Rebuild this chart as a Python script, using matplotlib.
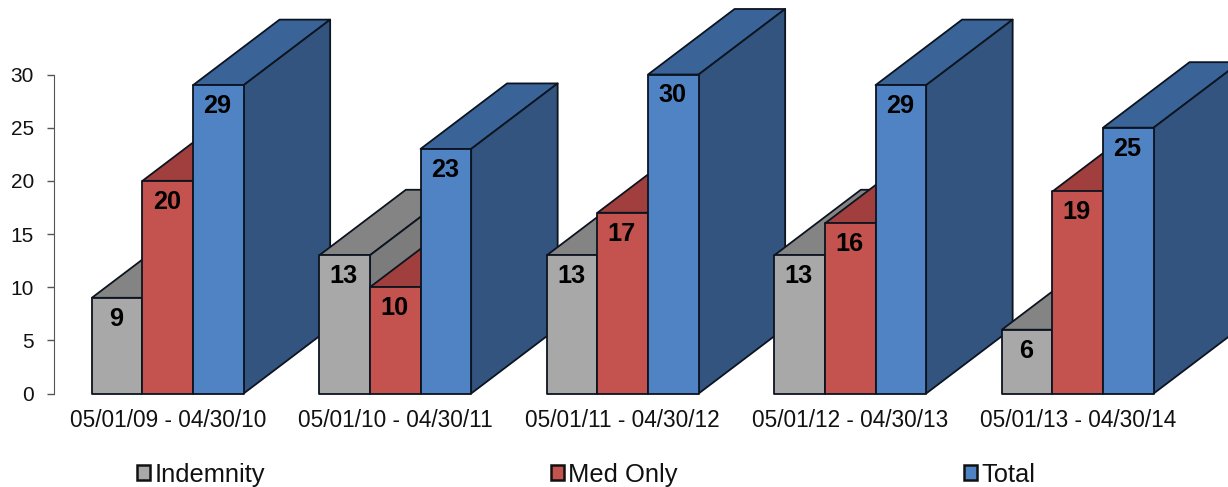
import matplotlib
matplotlib.use('Agg')
import matplotlib.pyplot as plt
from matplotlib.patches import Polygon, Patch

plt.rcParams['font.family'] = ['Liberation Sans', 'DejaVu Sans']

periodos = ['05/01/09 - 04/30/10', '05/01/10 - 04/30/11', '05/01/11 - 04/30/12',
            '05/01/12 - 04/30/13', '05/01/13 - 04/30/14']
series = ['Indemnity', 'Med Only', 'Total']
indemnity = [9, 13, 13, 13, 6]
med_only = [20, 10, 17, 16, 19]
total = [29, 23, 30, 29, 25]

colores_frente = ['#a8a8a8', '#c4524e', '#4f83c4']
colores_arriba = ['#848484', '#a03f3d', '#3a6398']
colores_lado = ['#7c7c7c', '#93403d', '#33547f']

W, H = 1228, 487
fig = plt.figure(figsize=(W / 100, H / 100), dpi=100)
# eje y: 0 en el pixel 393.5, 30 en 74.5
ax = fig.add_axes([54 / W, 1 - 393.5 / H, 1137.5 / W, 319 / H])
ax.set_xlim(0, 5)
ax.set_ylim(0, 30)

ancho = 50.6 / 227.5
prof_x = 86.5 / 227.5
prof_y = 65.5 * 30 / 319


def dibujar_barra(x0, valor, i):
    x1 = x0 + ancho
    estilo = dict(edgecolor='#0c1420', linewidth=1.3, clip_on=False, joinstyle='round')
    arriba = [(x0, valor), (x1, valor), (x1 + prof_x, valor + prof_y), (x0 + prof_x, valor + prof_y)]
    lado = [(x1, 0), (x1 + prof_x, prof_y), (x1 + prof_x, valor + prof_y), (x1, valor)]
    ax.add_patch(Polygon(arriba, facecolor=colores_arriba[i], **estilo))
    ax.add_patch(Polygon(lado, facecolor=colores_lado[i], **estilo))
    ax.add_patch(Polygon([(x0, 0), (x1, 0), (x1, valor), (x0, valor)],
                         facecolor=colores_frente[i], **estilo))
    ax.annotate(str(valor), (x0 + ancho / 2, valor), xytext=(-0.7, -15), textcoords='offset points',
                ha='center', va='center', fontsize=18.2, fontweight='bold', color='black',
                annotation_clip=False)


for g in range(len(periodos)):
    inicio = g + 0.5 - 1.5 * ancho
    for i, valores in enumerate([indemnity, med_only, total]):
        dibujar_barra(inicio + i * ancho, valores[g], i)

ax.set_xticks([g + 0.5 for g in range(5)])
ax.set_xticklabels(periodos, fontsize=16.3, color='#111111')
ax.set_yticks(range(0, 31, 5))
ax.tick_params(axis='x', length=0, pad=11)
ax.tick_params(axis='y', length=5, width=1, color='#555555', labelsize=15, labelcolor='#111111', pad=9.5)
for lado in ['top', 'right', 'bottom']:
    ax.spines[lado].set_visible(False)
ax.spines['left'].set_color('#555555')
ax.patch.set_alpha(0)

handles = [Patch(facecolor=c, edgecolor='#111111', linewidth=1.8) for c in colores_frente]
fig.legend(handles, series, loc='center', bbox_to_anchor=(586 / W, 1 - 475 / H), ncol=3,
           frameon=False, fontsize=18.4, columnspacing=11.2, handlelength=0.52, handleheight=0.52,
           handletextpad=0.15, borderpad=0, labelcolor='#111111')

fig.savefig('out.png', dpi=100)
